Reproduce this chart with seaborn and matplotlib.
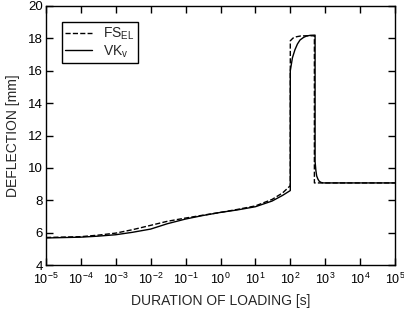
import matplotlib
matplotlib.use("Agg")
import matplotlib.pyplot as plt
import seaborn as sns

# Data
# FS_EL (dashed)
fs_x = [1e-5, 1e-4, 3e-4, 1e-3, 3e-3, 1e-2, 3e-2, 1e-1, 3e-1, 1, 3, 10, 30, 60, 100,
        100, 120, 150, 200, 300, 490, 490, 1e5]
fs_y = [5.70, 5.75, 5.84, 5.97, 6.18, 6.45, 6.70, 6.90, 7.07, 7.25, 7.43, 7.65, 8.05, 8.45, 8.90,
        17.85, 18.02, 18.10, 18.15, 18.16, 18.16, 9.07, 9.07]

# VK_v (solid)
vk_x = [1e-5, 1e-4, 3e-4, 1e-3, 3e-3, 1e-2, 3e-2, 1e-1, 3e-1, 1, 3, 10, 30, 60, 100,
        100, 115, 136, 160, 190, 240, 295, 380, 513, 513, 540, 570, 620, 676, 760, 890, 1e5]
vk_y = [5.67, 5.72, 5.78, 5.87, 6.02, 6.22, 6.55, 6.84, 7.05, 7.25, 7.40, 7.60, 7.95, 8.30, 8.60,
        16.00, 16.80, 17.30, 17.65, 17.90, 18.06, 18.15, 18.19, 18.20, 10.40, 9.85, 9.50, 9.30, 9.17, 9.10, 9.07, 9.07]

x_ticks = [1e-5, 1e-4, 1e-3, 1e-2, 1e-1, 1, 10, 100, 1e3, 1e4, 1e5]
x_labels = ['10$^{-5}$', '10$^{-4}$', '10$^{-3}$', '10$^{-2}$', '10$^{-1}$', '10$^{0}$',
            '10$^{1}$', '10$^{2}$', '10$^{3}$', '10$^{4}$', '10$^{5}$']
y_ticks = [4, 6, 8, 10, 12, 14, 16, 18, 20]

sns.set_style("ticks")
plt.rcParams['font.family'] = ['Liberation Sans', 'DejaVu Sans']
plt.rcParams['mathtext.fontset'] = 'custom'
plt.rcParams['mathtext.rm'] = 'Liberation Sans'
plt.rcParams['mathtext.it'] = 'Liberation Sans'
plt.rcParams['mathtext.default'] = 'regular'

fig = plt.figure(figsize=(4.04, 3.11), dpi=100)
ax = fig.add_axes([46 / 404, 1 - 265 / 311, 349 / 404, 259 / 311])

sns.lineplot(x=fs_x, y=fs_y, ax=ax, color='black', linestyle='--', linewidth=1,
             estimator=None, sort=False, label='FS$_{EL}$')
sns.lineplot(x=vk_x, y=vk_y, ax=ax, color='black', linestyle='-', linewidth=1,
             estimator=None, sort=False, label='VK$_v$')

ax.set_xscale('log')
ax.set_xlim(1e-5, 1e5)
ax.set_ylim(4, 20)
ax.set_xticks(x_ticks)
ax.set_xticklabels(x_labels)
ax.set_yticks(y_ticks)
ax.minorticks_off()
ax.tick_params(direction='in', top=True, right=True, length=5, width=1,
               labelsize=9.5, colors='black')
ax.tick_params(axis='x', pad=5, labelsize=9)
ax.tick_params(axis='y', pad=2)
for s in ax.spines.values():
    s.set_linewidth(1)
    s.set_color('black')

ax.set_xlabel('DURATION OF LOADING [s]', fontsize=10, labelpad=5)
ax.set_ylabel('DEFLECTION [mm]', fontsize=10, labelpad=6)

leg = ax.legend(loc='upper left', bbox_to_anchor=((62 - 46) / 349, (265 - 22) / 259),
                borderaxespad=0, fontsize=10,
                frameon=True, fancybox=False, edgecolor='black', framealpha=1,
                handlelength=1.9, handletextpad=0.8, borderpad=0.25, labelspacing=0.1)
leg.get_frame().set_linewidth(1)

fig.savefig('out.png', dpi=100)
